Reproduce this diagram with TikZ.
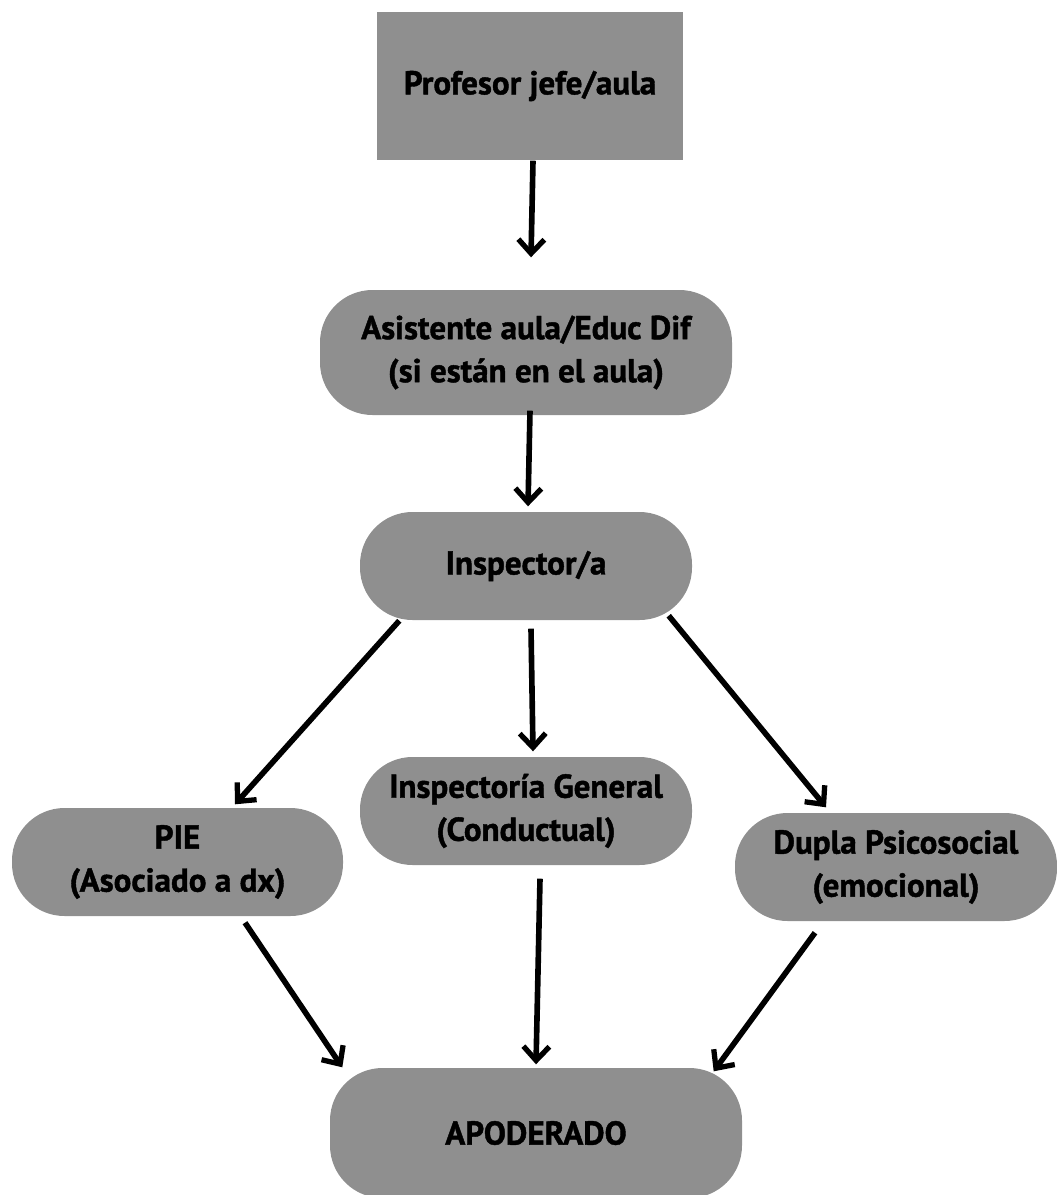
\documentclass[tikz,border=0pt]{standalone}
\usepackage{fontspec}
\setmainfont{PT Sans}[BoldFeatures={FakeBold=1.3}]
\usepackage{tikz}
\usetikzlibrary{arrows.meta, positioning}
\tikzset{>={Straight Barb[length=2.8mm,width=5.2mm,line width=3pt]}}

\begin{document}
\begin{tikzpicture}[thick, scale=1,
    box/.style={fill=black!44, minimum width=#1, align=center, inner sep=0pt,
        font=\bfseries\fontsize{18.8}{24.5}\selectfont},
    pill/.style={box=#1, rounded corners=1.05cm},
    arr/.style={->, line width=3.2pt}]
    \useasboundingbox (0,0) rectangle (21.14,-23.9);

    \node[box=6.12cm, minimum height=2.96cm] (prof) at (10.6,-1.72) {Profesor jefe/aula};
    \node[pill=8.24cm, minimum height=2.5cm] (asis) at (10.52,-7.05) {Asistente aula/Educ Dif\\(si están en el aula)};
    \node[pill=6.64cm, minimum height=2.16cm] (insp) at (10.52,-11.32) {Inspector/a};
    
    \node[pill=6.62cm, minimum height=2.16cm] (pie) at (3.55,-17.24) {PIE\\(Asociado a dx)};
    \node[pill=6.64cm, minimum height=2.16cm] (gen) at (10.52,-16.22) {Inspectoría General\\(Conductual)};
    \node[pill=6.44cm, minimum height=2.16cm] (dupla) at (17.92,-17.34) {Dupla Psicosocial\\(emocional)};
    
    \node[pill=8.24cm, minimum height=2.6cm] (apod) at (10.72,-22.66) {APODERADO};
    
    \draw[arr] ([xshift=0.06cm]prof.south) -- ([xshift=0.1cm,yshift=0.64cm]asis.north);
    \draw[arr] ([xshift=0.08cm,yshift=0.1cm]asis.south) -- ([xshift=0.04cm,yshift=0.1cm]insp.north);
    
    \draw[arr] ([xshift=0.8cm]insp.south west) -- ([xshift=1.15cm,yshift=0.06cm]pie.north);
    \draw[arr] ([xshift=0.1cm,yshift=-0.16cm]insp.south) -- ([xshift=0.14cm,yshift=0.1cm]gen.north);
    \draw[arr] ([xshift=-0.48cm,yshift=0.1cm]insp.south east) -- ([xshift=-1.4cm,yshift=0.1cm]dupla.north);
    
    \draw[arr] ([xshift=1.35cm,yshift=-0.12cm]pie.south) -- ([xshift=0.26cm]apod.north west);
    \draw[arr] ([xshift=0.28cm,yshift=-0.26cm]gen.south) -- ([yshift=0.06cm]apod.north);
    \draw[arr] ([xshift=-1.62cm,yshift=-0.22cm]dupla.south) -- ([xshift=-0.58cm,yshift=-0.08cm]apod.north east);
\end{tikzpicture}
\end{document}
